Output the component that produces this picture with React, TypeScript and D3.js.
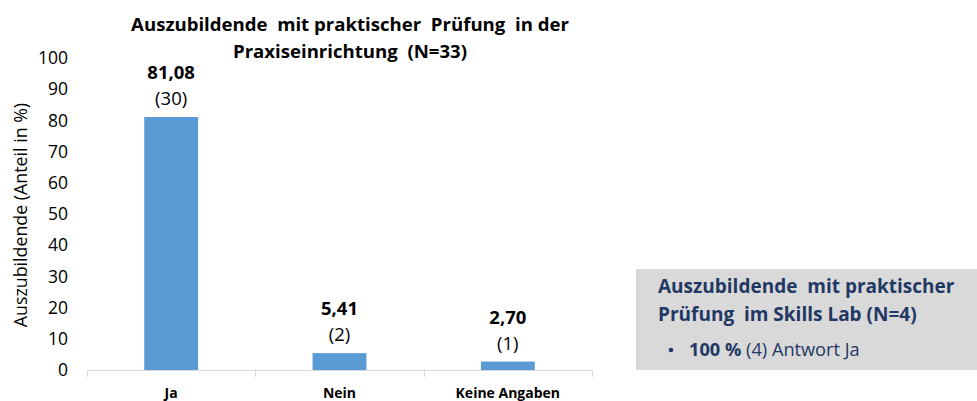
import React from "react";
import * as d3 from "d3";

const categories = ["Ja", "Nein", "Keine Angaben"];
const percentages = [81.08, 5.41, 2.7];
const counts = [30, 2, 1];
const yTicks = [0, 10, 20, 30, 40, 50, 60, 70, 80, 90, 100];
const titleLines = ["Auszubildende  mit praktischer  Prüfung  in der", "Praxiseinrichtung  (N=33)"];
const yAxisTitle = "Auszubildende (Anteil in %)";
const boxTitleLines = ["Auszubildende  mit praktischer", "Prüfung  im Skills Lab (N=4)"];
const boxBulletBold = "100 %";
const boxBulletRest = " (4) Antwort Ja";

const W = 977;
const H = 401;
const FONT = "'Open Sans', sans-serif";

export default function App() {
  const x = d3.scaleBand<string>().domain(categories).range([87, 592]).paddingInner(0.68).paddingOuter(0.34);
  const y = d3.scaleLinear().domain([0, 100]).range([370, 58]);
  const bandStep = (592 - 87) / categories.length;
  const fmt = (v: number) => v.toFixed(2).replace(".", ",");
  const boundaries = d3.range(categories.length + 1).map((i) => 87 + i * bandStep);

  return (
    <svg width={W} height={H} style={{ position: "absolute", left: 0, top: 0, background: "#fff" }} fontFamily={FONT}>
      {titleLines.map((t, i) => (
        <text key={i} x={350} y={30.5 + i * 27} textAnchor="middle" fontWeight="bold" fontSize={18.6} fill="#000" style={{ whiteSpace: "pre" }}>
          {t}
        </text>
      ))}
      <text transform="translate(27,215) rotate(-90)" textAnchor="middle" fontSize={17.8} fill="#000">
        {yAxisTitle}
      </text>
      {yTicks.map((t) => (
        <text key={t} x={68} y={y(t)} dy="0.35em" textAnchor="end" fontSize={17.5} fill="#000">
          {t}
        </text>
      ))}
      {categories.map((c, i) => {
        const bx = x(c)!;
        const bw = x.bandwidth();
        const top = y(percentages[i]);
        const cx = bx + bw / 2;
        return (
          <g key={c}>
            <rect x={bx} y={top} width={bw} height={y(0) - top} fill="#5b9bd5" />
            <text x={cx} y={top - 38} textAnchor="middle" fontWeight="bold" fontSize={18.5} fill="#000">
              {fmt(percentages[i])}
            </text>
            <text x={cx} y={top - 12} textAnchor="middle" fontSize={18.5} fill="#000">
              ({counts[i]})
            </text>
            <text x={87 + (i + 0.5) * bandStep} y={398} textAnchor="middle" fontWeight="bold" fontSize={14} fill="#000">
              {c}
            </text>
          </g>
        );
      })}
      <line x1={87} x2={592} y1={370.5} y2={370.5} stroke="#d9d9d9" strokeWidth={1} />
      {boundaries.map((bx, i) => (
        <line key={i} x1={Math.round(bx) + 0.5} x2={Math.round(bx) + 0.5} y1={370} y2={377} stroke="#d9d9d9" strokeWidth={1} />
      ))}
      <rect x={636} y={269} width={W - 636} height={101} fill="#d9d9d9" />
      {boxTitleLines.map((t, i) => (
        <text key={i} x={658} y={293 + i * 28} fontWeight="bold" fontSize={19} fill="#1f3864" style={{ whiteSpace: "pre" }}>
          {t}
        </text>
      ))}
      <circle cx={671} cy={350} r={2.3} fill="#1f3864" />
      <text x={689} y={356} fontSize={18.2} fill="#1f3864">
        <tspan fontWeight="bold">{boxBulletBold}</tspan>
        <tspan>{boxBulletRest}</tspan>
      </text>
    </svg>
  );
}
